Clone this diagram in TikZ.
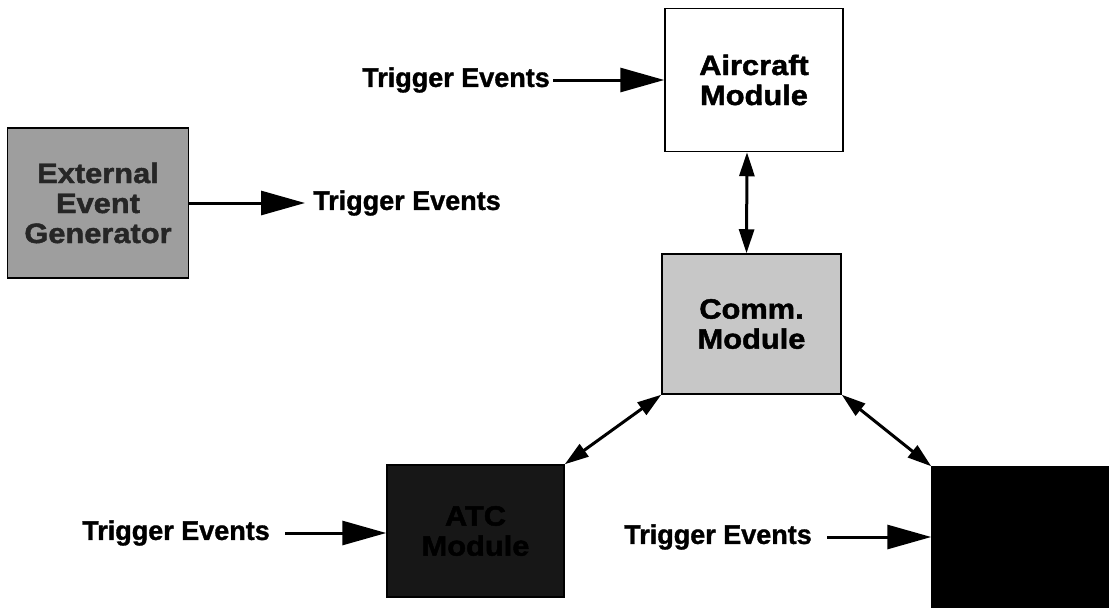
\documentclass[tikz,border=0pt]{standalone}
\usepackage{fontspec}
\setmainfont{Liberation Sans}[BoldFeatures={FakeBold=1.2}]
\newfontfamily\modfont{Liberation Sans}[FakeStretch=1.1, BoldFeatures={FakeBold=1.6}]
\usetikzlibrary{arrows.meta}

\begin{document}
\begin{tikzpicture}[x=1pt, y=-1pt,
    module/.style={draw=black, line width=1.5pt, align=center, inner sep=0pt, font=\modfont\bfseries\fontsize{28}{30}\selectfont},
    trig/.style={inner sep=0pt, font=\bfseries\fontsize{27}{30}\selectfont},
    flow/.style={line width=3pt, -{Triangle[length=44pt,width=24pt]}},
    link/.style={line width=3pt, {Triangle[length=24pt,width=15pt]}-{Triangle[length=24pt,width=15pt]}}]
    \useasboundingbox (0,0) rectangle (1109,608);

    \node[module, fill=black!38, text=black!85, minimum width=181pt, minimum height=150pt] (gen) at (98,203) {External\\Event\\Generator};
    \node[module, fill=white, minimum width=178pt, minimum height=143pt] (air) at (754,80) {Aircraft\\Module};
    \node[module, fill=black!22, minimum width=179pt, minimum height=140pt] (comm) at (751.5,324) {Comm.\\Module};
    \node[module, fill=black!91, text=black, minimum width=177pt, minimum height=132pt] (atc) at (475.5,531) {ATC\\Module};
    \node[module, fill=black, minimum width=182pt, minimum height=146pt] (blk) at (1023,540) {};

    \node[trig, anchor=west] (t1) at (313,203) {Trigger Events};
    \node[trig, anchor=east] (t2) at (550,80) {Trigger Events};
    \node[trig, anchor=east] (t3) at (270,533) {Trigger Events};
    \node[trig, anchor=east] (t4) at (812,537) {Trigger Events};

    \draw[flow] (gen) -- ([xshift=-8pt]t1.west);
    \draw[flow, shorten <=3pt] (t2) -- (air);
    \draw[flow, shorten <=15pt] (t3.east) -- (t3.east -| atc.west);
    \draw[flow, shorten <=15pt] (t4.east) -- (t4.east -| blk.west);

    \draw[link] ([xshift=-7pt]air.south) -- ([xshift=-5pt]comm.north);
    \draw[link] (comm.south west) -- (atc.north east);
    \draw[link] (comm.south east) -- (blk.north west);
\end{tikzpicture}
\end{document}
